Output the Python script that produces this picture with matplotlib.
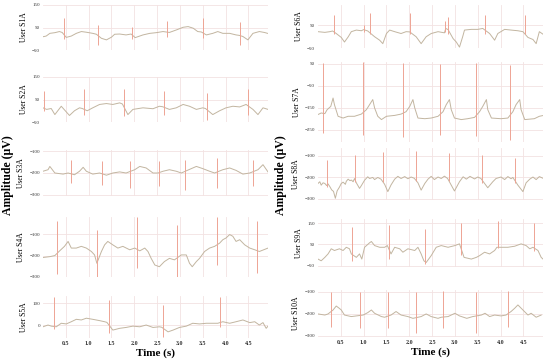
import matplotlib
matplotlib.use("Agg")
import matplotlib.pyplot as plt

# ── data: slow trace (t [s], µV) + QRS spikes (t, peak, trough)
S1A_TRACE = [(0.00, 9), (0.07, 12), (0.15, 24), (0.26, 27), (0.36, 32), (0.42, 28), (0.51, 6), (0.62, 12),
             (0.73, 24), (0.84, 32), (0.95, 29), (1.09, 24), (1.17, 20), (1.28, 2), (1.39, -5), (1.50, 7),
             (1.57, 20), (1.68, 21), (1.82, 17), (1.93, 21), (2.02, 5), (2.19, 17), (2.34, 24), (2.48, 27),
             (2.63, 32), (2.70, 30), (2.77, 28), (2.92, 39), (3.07, 51), (3.18, 54), (3.29, 47), (3.39, 32),
             (3.47, 30), (3.58, 17), (3.72, 24), (3.83, 32), (3.94, 24), (4.09, 24), (4.23, 17), (4.30, 15),
             (4.38, 10), (4.49, -5), (4.60, 24), (4.74, 32), (4.85, 28), (4.92, 24)]
S1A_SPIKES = [(0.45, 91, -3), (1.20, 61, -28), (1.96, 54, -2), (2.72, 80, 9), (3.50, 91, 2), (4.32, 76, -28)]

S2A_TRACE = [(0.00, 13), (0.08, 6), (0.18, 10), (0.26, -17), (0.40, 20), (0.58, -21), (0.69, 0), (0.80, 13),
             (0.86, 10), (0.97, 0), (1.09, 13), (1.24, 28), (1.39, 32), (1.53, 28), (1.68, 35), (1.74, 30),
             (1.86, -17), (1.97, 6), (2.19, 13), (2.41, 9), (2.55, 20), (2.62, 18), (2.77, 6), (2.92, 13),
             (3.07, 28), (3.21, 20), (3.36, 6), (3.50, 13), (3.56, 10), (3.72, -17), (3.87, 0), (4.01, 13),
             (4.16, 20), (4.31, 17), (4.45, 28), (4.60, 6), (4.71, -17), (4.82, 13), (4.93, 6)]
S2A_SPIKES = [(0.02, 87, 0), (0.89, 98, -21), (1.77, 95, -25), (2.66, 87, -17), (3.59, 80, -42), (4.49, 98, -21)]

S3A_TRACE = [(0.00, -192), (0.11, -185), (0.15, -170), (0.26, -200), (0.44, -205), (0.55, -200), (0.69, -208),
             (0.80, -192), (0.88, -174), (0.95, -192), (1.09, -205), (1.24, -200), (1.39, -210), (1.53, -200),
             (1.68, -195), (1.82, -200), (2.01, -185), (2.12, -170), (2.26, -177), (2.41, -200), (2.52, -200),
             (2.63, -192), (2.77, -185), (2.92, -192), (3.03, -200), (3.25, -180), (3.36, -170), (3.50, -180),
             (3.65, -192), (3.76, -200), (3.94, -185), (4.09, -177), (4.23, -188), (4.38, -205), (4.53, -200),
             (4.71, -185), (4.82, -162), (4.93, -195)]
S3A_SPIKES = [(0.61, -139, -246), (1.30, -147, -253), (1.91, -147, -268), (2.54, -147, -261),
              (3.12, -139, -276), (3.81, -132, -268), (4.60, -139, -261)]

S4A_TRACE = [(0.00, -209), (0.15, -205), (0.26, -200), (0.35, -181), (0.47, -157), (0.55, -134), (0.62, -165),
             (0.73, -165), (0.84, -157), (0.95, -165), (1.06, -181), (1.13, -197), (1.18, -236), (1.28, -181),
             (1.35, -150), (1.42, -134), (1.53, -150), (1.64, -165), (1.75, -157), (1.90, -173), (2.01, -165),
             (2.12, -178), (2.23, -165), (2.30, -181), (2.37, -213), (2.45, -244), (2.55, -252), (2.66, -228),
             (2.77, -213), (2.88, -220), (3.03, -197), (3.14, -197), (3.21, -236), (3.27, -252), (3.36, -228),
             (3.43, -213), (3.54, -181), (3.65, -165), (3.76, -157), (3.87, -142), (3.94, -126), (4.01, -118),
             (4.09, -102), (4.16, -110), (4.23, -134), (4.31, -126), (4.42, -150), (4.53, -165), (4.64, -173),
             (4.74, -181), (4.93, -165)]
S4A_SPIKES = [(0.31, -39, -288), (1.19, -79, -299), (2.06, -20, -260), (2.94, -55, -299),
              (3.81, -20, -244), (4.69, -39, -283)]

S5A_TRACE = [(0.00, -8), (0.11, 0), (0.18, -5), (0.29, -8), (0.40, 8), (0.51, 5), (0.62, 15), (0.73, 26),
             (0.84, 23), (0.95, 31), (1.09, 26), (1.24, 20), (1.35, 15), (1.40, 12), (1.53, -23), (1.68, -15),
             (1.82, -11), (1.97, -5), (2.12, -8), (2.26, 0), (2.41, -11), (2.55, -8), (2.60, -10), (2.74, -31),
             (2.85, -23), (2.99, -11), (3.14, -5), (3.28, 8), (3.43, 5), (3.58, 8), (3.72, 8), (3.83, 8),
             (3.94, 15), (4.09, 8), (4.23, 15), (4.38, 23), (4.53, 11), (4.64, 15), (4.74, 0), (4.82, 11),
             (4.89, -15), (4.93, -5)]
S5A_SPIKES = [(0.24, 128, -20), (1.44, 115, -35), (2.64, 92, -54), (3.88, 128, -8)]

S6A_TRACE = [(0.00, 21), (0.15, 18), (0.26, 21), (0.32, 24), (0.40, 13), (0.51, -4), (0.58, -24), (0.66, -2),
             (0.73, 21), (0.84, 28), (0.95, 25), (1.00, 30), (1.09, 24), (1.24, -1), (1.35, -16), (1.42, -31),
             (1.50, 13), (1.57, 28), (1.68, 21), (1.82, 13), (1.93, 21), (2.01, 20), (2.15, -1), (2.26, -31),
             (2.37, -1), (2.48, 13), (2.63, 21), (2.77, 16), (2.80, 35), (2.85, 30), (2.96, -9), (3.03, -24),
             (3.10, -46), (3.17, -1), (3.21, 28), (3.36, 31), (3.50, 31), (3.61, 35), (3.76, 13), (3.87, -16),
             (3.94, 13), (4.09, 31), (4.23, 28), (4.38, 25), (4.49, 21), (4.60, -4), (4.71, -13), (4.78, -31),
             (4.85, 21), (4.93, 10)]
S6A_SPIKES = [(0.34, 94, 13), (1.00, 50, 20), (1.15, 104, 13), (2.01, 101, 13), (2.79, 66, 20),
              (2.85, 84, 13), (3.65, 94, 13), (4.53, 94, 13)]

S7A_TRACE = [(0.00, -180), (0.07, -173), (0.15, -176), (0.20, -158), (0.28, -143), (0.33, -105), (0.36, -135),
             (0.44, -188), (0.55, -196), (0.66, -188), (0.80, -188), (0.95, -178), (1.06, -158), (1.13, -135),
             (1.20, -112), (1.24, -150), (1.31, -188), (1.39, -203), (1.50, -188), (1.68, -184), (1.82, -178),
             (1.93, -167), (2.01, -143), (2.08, -112), (2.12, -150), (2.19, -196), (2.34, -199), (2.48, -196),
             (2.63, -188), (2.74, -167), (2.81, -135), (2.88, -112), (2.92, -158), (2.99, -196), (3.14, -203),
             (3.28, -199), (3.43, -193), (3.54, -167), (3.61, -143), (3.69, -112), (3.72, -158), (3.80, -196),
             (4.01, -199), (4.16, -196), (4.27, -167), (4.34, -135), (4.42, -112), (4.45, -158), (4.53, -203),
             (4.74, -199), (4.85, -188), (4.92, -185)]
S7A_SPIKES = [(0.11, 55, -264), (0.99, 58, -271), (1.86, 55, -283), (2.68, 50, -271), (3.47, 55, -279),
              (4.20, 47, -294), (4.92, 47, -286)]

S8A_TRACE = [(0.00, -228), (0.04, -220), (0.07, -236), (0.11, -225), (0.15, -228), (0.19, -238), (0.22, -230),
             (0.26, -243), (0.30, -258), (0.34, -265), (0.38, -297), (0.42, -262), (0.47, -245), (0.51, -228),
             (0.55, -222), (0.60, -232), (0.62, -218), (0.66, -208), (0.70, -215), (0.73, -212), (0.77, -220),
             (0.80, -205), (0.84, -225), (0.91, -251), (0.95, -238), (1.02, -213), (1.09, -197), (1.13, -205),
             (1.20, -200), (1.24, -210), (1.31, -200), (1.38, -208), (1.46, -232), (1.53, -266), (1.60, -235),
             (1.68, -208), (1.75, -195), (1.82, -205), (1.90, -196), (1.97, -206), (2.04, -198), (2.11, -204),
             (2.19, -225), (2.26, -259), (2.34, -228), (2.41, -208), (2.48, -195), (2.55, -210), (2.63, -198),
             (2.70, -205), (2.77, -194), (2.84, -205), (2.92, -236), (2.99, -263), (3.10, -220), (3.18, -197),
             (3.25, -208), (3.33, -195), (3.43, -207), (3.50, -198), (3.57, -205), (3.65, -228), (3.72, -248),
             (3.83, -220), (3.90, -205), (4.01, -198), (4.09, -210), (4.16, -196), (4.23, -206), (4.27, -200),
             (4.38, -236), (4.49, -266), (4.56, -225), (4.64, -208), (4.71, -198), (4.78, -210), (4.85, -196),
             (4.93, -204)]
S8A_SPIKES = [(0.20, -120, -243), (0.82, -97, -220), (1.42, -81, -220), (2.15, -78, -217),
              (2.86, -84, -217), (3.59, -97, -228), (4.31, -109, -228)]

S9A_TRACE = [(0.00, -18), (0.07, -26), (0.15, -10), (0.22, 6), (0.29, 30), (0.36, 22), (0.47, 30), (0.55, 22),
             (0.62, 37), (0.69, 30), (0.73, 6), (0.84, -10), (0.91, 6), (0.96, -18), (1.02, 37), (1.13, 58),
             (1.17, 64), (1.24, 45), (1.35, 37), (1.46, 37), (1.52, 45), (1.60, 6), (1.68, 37), (1.79, 30),
             (1.86, 14), (1.97, 30), (2.12, 22), (2.19, 37), (2.26, 6), (2.32, -26), (2.37, -34), (2.48, -2),
             (2.59, 37), (2.70, 45), (2.85, 37), (3.00, 45), (3.10, 53), (3.20, -10), (3.36, -18), (3.47, -10),
             (3.54, -2), (3.65, 14), (3.76, 6), (3.87, 22), (3.92, 37), (4.01, 37), (4.16, 37), (4.31, 42),
             (4.45, 53), (4.56, 45), (4.64, 30), (4.71, 37), (4.82, 22), (4.89, -10), (4.93, -18)]
S9A_SPIKES = [(0.74, 132, -26), (1.55, 140, -18), (2.34, 124, -42), (3.14, 148, 3), (3.94, 158, 34),
              (4.74, 148, 18)]

S10A_TRACE = [(0.00, -200), (0.15, -205), (0.22, -200), (0.33, -182), (0.40, -164), (0.47, -175), (0.51, -182),
              (0.58, -205), (0.73, -212), (0.84, -209), (0.99, -205), (1.09, -194), (1.17, -182), (1.24, -197),
              (1.39, -212), (1.46, -215), (1.60, -205), (1.71, -189), (1.82, -205), (1.97, -212), (2.08, -220),
              (2.26, -212), (2.37, -200), (2.48, -212), (2.63, -220), (2.70, -215), (2.85, -212), (3.00, -197),
              (3.10, -209), (3.26, -220), (3.39, -212), (3.58, -205), (3.66, -197), (3.76, -212), (3.87, -205),
              (4.01, -209), (4.12, -205), (4.23, -189), (4.31, -174), (4.38, -159), (4.49, -182), (4.60, -205),
              (4.67, -197), (4.78, -215), (4.89, -205)]
S10A_SPIKES = [(0.28, -98, -261), (0.91, -98, -265), (1.53, -98, -265), (2.15, -98, -285), (2.74, -95, -265),
               (3.47, -98, -285), (4.16, -95, -258), (4.93, -95, -258)]

X_TICKS = [0.5, 1.0, 1.5, 2.0, 2.5, 3.0, 3.5, 4.0, 4.5]

# name, trace, spikes, y ticks, y limits, pixel box (left, top, bottom)
panels = [
    ("User S1A", S1A_TRACE, S1A_SPIKES, [150, 50, -50], (-50, 150), (43, 5, 50)),
    ("User S2A", S2A_TRACE, S2A_SPIKES, [150, 50, -50], (-50, 150), (43, 77, 122)),
    ("User S3A", S3A_TRACE, S3A_SPIKES, [-100, -200, -300], (-305, -95), (43, 150, 196)),
    ("User S4A", S4A_TRACE, S4A_SPIKES, [-100, -200, -300], (-300, -20), (43, 217, 277)),
    ("User S5A", S5A_TRACE, S5A_SPIKES, [100, 0], (-59, 132), (43, 296, 338)),
    ("User S6A", S6A_TRACE, S6A_SPIKES, [50, -50], (-50, 137), (318, 5, 48)),
    ("User S7A", S7A_TRACE, S7A_SPIKES, [50, -50, -150, -250], (-305, 59), (318, 62, 142)),
    ("User S8A", S8A_TRACE, S8A_SPIKES, [-100, -200, -300], (-305, -63), (318, 148, 200)),
    ("User S9A", S9A_TRACE, S9A_SPIKES, [150, 50, -50], (-55, 169), (318, 219, 267)),
    ("User S10A", S10A_TRACE, S10A_SPIKES, [-100, -200, -300], (-305, -91), (318, 290, 337)),
]

W, H = 550, 362
SERIF = "Liberation Serif"
GRID = "#f3e2e2"
TRACE_C = "#c2b5a0"
SPIKE_C = "#eea494"

fig = plt.figure(figsize=(W / 100, H / 100), dpi=100, facecolor="white")

for i, (name, trace, spikes, yt, ylim, (left, top, bottom)) in enumerate(panels):
    ax = fig.add_axes([left / W, 1 - bottom / H, 225 / W, (bottom - top) / H])
    t, v = zip(*trace)
    st, hi, lo = zip(*spikes)
    ax.plot(t, v, color=TRACE_C, lw=0.7, zorder=3)
    ax.vlines(st, lo, hi, color=SPIKE_C, lw=0.7, zorder=4)

    ax.set_xlim(0, 4.93)
    ax.set_ylim(*ylim)
    ax.set_yticks(yt)
    ax.set_xticks(X_TICKS)
    ax.grid(True, color=GRID, lw=0.6, zorder=0)
    ax.set_axisbelow(True)
    for sp in ax.spines.values():
        sp.set_visible(False)
    ax.tick_params(length=0, pad=2)
    for lab in ax.get_yticklabels():
        lab.set_fontfamily(SERIF)
        lab.set_fontsize(3.6)
        lab.set_color("#333333")
    if i in (4, 9):
        ax.set_xticklabels([f"{x:.1f}" for x in X_TICKS], fontfamily=SERIF, fontsize=4.3,
                           fontweight="bold", color="#333333")
        ax.set_xlabel("Time (s)", fontfamily=SERIF, fontsize=8, fontweight="bold", labelpad=2)
    else:
        ax.set_xticklabels([])
    ax.set_ylabel(name, fontfamily=SERIF, fontsize=5.5, labelpad=3)

for x in (8, 281):
    fig.text(x / W, 1 - 175 / H, "Amplitude (μV)", rotation=90, ha="center", va="center",
             fontfamily=SERIF, fontsize=8.5, fontweight="bold")

fig.savefig("out.png", dpi=100, facecolor="white")
